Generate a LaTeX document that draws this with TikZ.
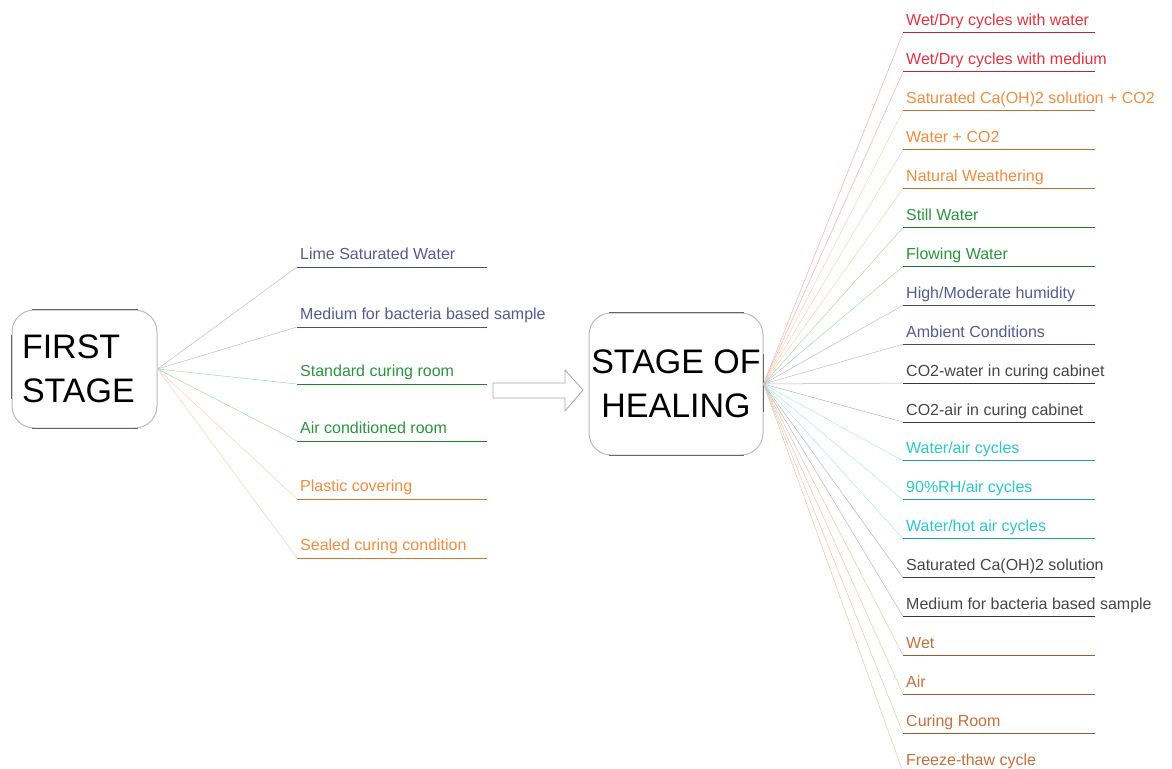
\documentclass[tikz,border=0pt]{standalone}
\usepackage{fontspec}
\setmainfont{Liberation Sans}
\usetikzlibrary{positioning}

\definecolor{redc}{RGB}{232,48,64}
\definecolor{orangec}{RGB}{242,140,60}
\definecolor{greenc}{RGB}{40,150,60}
\definecolor{bluec}{RGB}{85,90,150}
\definecolor{grayc}{RGB}{70,70,70}
\definecolor{cyanc}{RGB}{40,200,210}
\definecolor{brownc}{RGB}{200,110,60}

\begin{document}
\begin{tikzpicture}[
    x=1pt, y=-1pt,
    stage/.style={rectangle, draw=gray!55, line width=1pt, rounded corners=22pt, font=\fontsize{34}{44}\selectfont},
    edge/.style={gray!80!black, line width=1.6pt},
    label/.style={anchor=base west, inner sep=0pt, font=\fontsize{16}{19}\selectfont},
    link/.style={line width=0.5pt}
]
\clip (0,0) rectangle (1172,768);

% Etapes
\node[stage, minimum width=145pt, minimum height=118pt, text width=125pt, align=left] (first) at (84.5,369) {FIRST\\STAGE};
\node[stage, minimum width=174pt, minimum height=142pt, align=center, inner sep=2pt] (heal) at (676,384) {STAGE OF\\HEALING};

\foreach \b in {first, heal} {
  \draw[edge] ([xshift=20pt]\b.north west) -- ([xshift=-20pt]\b.north east);
  \draw[edge] ([xshift=20pt]\b.south west) -- ([xshift=-20pt]\b.south east);
}
\draw[edge] ([yshift=-30pt]first.west) -- ([yshift=34pt]first.west);
\draw[edge] ([yshift=-28pt]heal.east) -- ([yshift=30pt]heal.east);

% Fleche
\draw[gray!70, line width=0.8pt] (493,383) -- (565,383) -- (565,370) -- (583,390) -- (565,411) -- (565,398) -- (493,398) -- cycle;

% Premiere etape
\foreach \y/\txt/\col [count=\i] in {
    267/{Lime Saturated Water}/bluec,
    327/{Medium for bacteria based sample}/bluec,
    384/{Standard curing room}/greenc,
    441/{Air conditioned room}/greenc,
    499/{Plastic covering}/orangec,
    558/{Sealed curing condition}/orangec} {
  \coordinate (m\i) at (297,\y);
  \draw[link, \col!40] (first.east) -- (m\i);
  \draw[\col!85!black, line width=1pt] (m\i) -- ++(190,0);
  \node[label, text=\col] at ([shift={(3pt,8pt)}]m\i) {\txt};
}

% Etape de cicatrisation
\foreach \txt/\col [count=\i from 0] in {
    {Wet/Dry cycles with water}/redc,
    {Wet/Dry cycles with medium}/redc,
    {Saturated Ca(OH)2 solution + CO2}/orangec,
    {Water + CO2}/orangec,
    {Natural Weathering}/orangec,
    {Still Water}/greenc,
    {Flowing Water}/greenc,
    {High/Moderate humidity}/bluec,
    {Ambient Conditions}/bluec,
    {CO2-water in curing cabinet}/grayc,
    {CO2-air in curing cabinet}/grayc,
    {Water/air cycles}/cyanc,
    {90\%RH/air cycles}/cyanc,
    {Water/hot air cycles}/cyanc,
    {Saturated Ca(OH)2 solution}/grayc,
    {Medium for bacteria based sample}/grayc,
    {Wet}/brownc,
    {Air}/brownc,
    {Curing Room}/brownc,
    {Freeze-thaw cycle}/brownc} {
  \pgfmathsetmacro\yy{33+38.9*\i}
  \coordinate (h\i) at (903,\yy);
  \draw[link, \col!40] (heal.east) -- (h\i);
  \draw[\col!80!black, line width=1pt] (h\i) -- ++(192,0);
  \node[label, text=\col] at ([shift={(3pt,7pt)}]h\i) {\txt};
}

\end{tikzpicture}
\end{document}
